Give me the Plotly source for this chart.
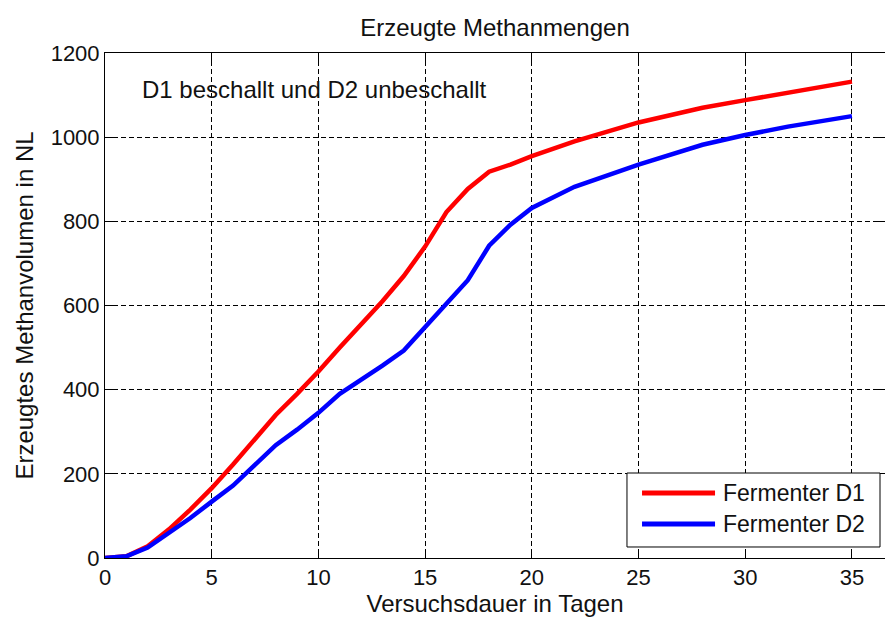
import plotly.graph_objects as go

days = [0, 1, 2, 3, 4, 5, 6, 7, 8, 9, 10, 11, 12, 13, 14, 15, 16, 17, 18, 19, 20, 22, 25, 28, 30, 32, 35]
d1 = [0, 4, 28, 68, 115, 166, 222, 280, 340, 390, 443, 500, 555, 610, 670, 740, 822, 877, 918, 935, 955, 990, 1035, 1070, 1088, 1105, 1132]
d2 = [0, 4, 25, 60, 95, 134, 172, 220, 268, 305, 345, 390, 422, 457, 493, 550, 605, 660, 742, 792, 832, 882, 935, 982, 1005, 1025, 1050]

series_names = ["Fermenter D1", "Fermenter D2"]
series_colors = ["#ff0000", "#0000ff"]

x_ticks = [0, 5, 10, 15, 20, 25, 30, 35]
y_ticks = [0, 200, 400, 600, 800, 1000, 1200]

FONT = "Liberation Sans, Arial, sans-serif"
TXT = "#111111"

fig = go.Figure()
for xs, ys, nm, col in [(days, d1, series_names[0], series_colors[0]),
                        (days, d2, series_names[1], series_colors[1])]:
    fig.add_trace(go.Scatter(x=xs, y=ys, mode="lines", name=nm,
                             line=dict(color=col, width=4.5), showlegend=False))

axis_common = dict(
    showline=True, linecolor="black", linewidth=1, mirror="ticks",
    ticks="inside", ticklen=8, tickcolor="black",
    showgrid=True, gridcolor="black", griddash="5px,3px", gridwidth=1,
    zeroline=False, tickfont=dict(size=22, color=TXT, family=FONT),
)

fig.update_xaxes(range=[0, 36.55], tickvals=x_ticks,
                 title=dict(text="Versuchsdauer in Tagen", font=dict(size=24, color=TXT, family=FONT), standoff=4),
                 **axis_common)
fig.update_yaxes(range=[0, 1200], tickvals=y_ticks,
                 title=dict(text="Erzeugtes Methanvolumen in NL", font=dict(size=24, color=TXT, family=FONT), standoff=10),
                 **axis_common)

fig.add_annotation(text="D1 beschallt und D2 unbeschallt", xref="paper", yref="paper",
                   x=0.045, y=0.928, xanchor="left", yanchor="middle", showarrow=False,
                   font=dict(size=24, color=TXT, family=FONT))

# legend box (drawn to match the reference's long legend samples)
fig.add_shape(type="rect", xref="paper", yref="paper", x0=0.6692, x1=0.9936, y0=0.0218, y1=0.1683,
              line=dict(color="black", width=1), fillcolor="white", layer="above")
leg_y = [0.1287, 0.0673]
for i in range(2):
    fig.add_shape(type="line", xref="paper", yref="paper", x0=0.6885, x1=0.7821, y0=leg_y[i], y1=leg_y[i],
                  line=dict(color=series_colors[i], width=5), layer="above")
    fig.add_annotation(text=series_names[i], xref="paper", yref="paper", x=0.790, y=leg_y[i],
                       xanchor="left", yanchor="middle", showarrow=False,
                       font=dict(size=23, color=TXT, family=FONT))

fig.update_layout(
    width=885, height=619,
    margin=dict(l=105, r=0, t=53, b=61),
    paper_bgcolor="white", plot_bgcolor="white",
    title=dict(text="Erzeugte Methanmengen", x=0.5, xref="paper", xanchor="center", y=0.955, yanchor="middle",
               font=dict(size=24, color=TXT, family=FONT)),
    font=dict(family=FONT, color=TXT),
    showlegend=False,
)

fig.write_html("out.html")
